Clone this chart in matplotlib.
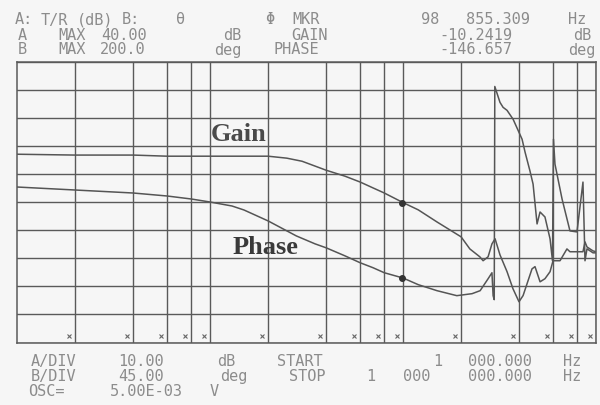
import numpy as np
import matplotlib
matplotlib.use('Agg')
import matplotlib.pyplot as plt
from matplotlib.ticker import NullLocator
from matplotlib.transforms import blended_transform_factory

# -------------------------------------------------------------------------
# Data (freq in Hz, gain in dB, phase in deg)
# -------------------------------------------------------------------------
gain_freq_khz = [1, 2, 4, 6, 10, 20, 25, 30, 40, 50, 60, 70, 80, 100, 120,
                 150, 200, 222, 250, 260, 276, 289, 300, 318, 346, 371, 399,
                 419, 466, 483, 513, 544, 578, 599, 651, 707, 733, 856, 877,
                 898, 965, 1000]
gain_db = [7.0, 6.7, 6.7, 6.3, 6.3, 6.3, 5.6, 4.5, 1.3, -0.8, -2.9, -5.0,
           -6.8, -10.2, -12.8, -17.1, -22.4, -26.7, -29.5, -30.9, -29.5,
           -24.9, -23.1, -28.8, -34.8, -40.8, -45.5, -43.3, -33.8, -33.0,
           -38.4, -37.3, -34.8, -30.9, -30.9, -26.7, -27.7, -27.7, -24.2,
           -26.0, -27.4, -27.7]

phase_freq_khz = [1, 2, 4, 6, 8, 10, 13, 15, 20, 28, 35, 40, 50, 60, 70, 80,
                  100, 120, 150, 190, 228, 251, 276, 289, 293, 297, 299, 318,
                  330, 346, 372, 414, 429, 455, 472, 495, 513, 544, 578, 595,
                  602, 613, 667, 733, 797, 856, 877, 898, 965, 1000]
phase_deg = [-1.0, -5.8, -10.6, -15.4, -20.2, -25.0, -31.4, -37.8, -55.3,
             -79.3, -92.0, -98.4, -111.2, -122.3, -130.3, -138.3, -146.7,
             -157.4, -167.0, -175.0, -171.8, -167.0, -147.9, -138.3, -175.0,
             -181.4, 160.0, 134.6, 126.6, 121.8, 107.5, 75.5, 54.8, 24.5, 3.7,
             -60.1, -41.0, -49.0, -84.0, -119.1, 75.5, 35.6, -20.2, -71.3,
             -72.9, 6.9, -119.1, -100.0, -106.4, -106.4]

marker_freq = 98855.309
marker_gain = -10.2419
marker_phase = -146.657

gain_max, gain_div = 40.0, 10.0
phase_max, phase_div = 200.0, 45.0
f_start, f_stop = 1e3, 1e6

# header / footer readout (pixel centre x, token)
header_rows = [
    (20, [(24, "A:"), (54, "T/R"), (95, "(dB)"), (131, "B:"), (181, "θ"),
          (270, "Φ"), (306, "MKR"), (430, "98"), (498, "855.309"), (577, "Hz")]),
    (35, [(22, "A"), (72, "MAX"), (124, "40.00"), (232, "dB"), (309, "GAIN"),
          (476, "-10.2419"), (582, "dB")]),
    (50, [(22, "B"), (72, "MAX"), (123, "200.0"), (228, "deg"), (296, "PHASE"),
          (476, "-146.657"), (582, "deg")]),
]
footer_rows = [
    (362, [(54, "A/DIV"), (141, "10.00"), (226, "dB"), (300, "START"),
           (438, "1"), (500, "000.000"), (572, "Hz")]),
    (377, [(54, "B/DIV"), (141, "45.00"), (234, "deg"), (307, "STOP"),
           (371, "1"), (417, "000"), (500, "000.000"), (572, "Hz")]),
    (392, [(46, "OSC="), (146, "5.00E-03"), (214, "V")]),
]

W, H = 600, 406
bg = "#f6f6f6"
ink = "#555555"
txt_col = "#8c8c8c"

# -------------------------------------------------------------------------
# Plot
# -------------------------------------------------------------------------
fig = plt.figure(figsize=(W / 100, H / 100), dpi=100, facecolor=bg)
ax = fig.add_axes([17 / W, 1 - 343.5 / H, 579 / W, 281 / H])
ax.set_facecolor(bg)
ax.set_xscale("log")
ax.set_xlim(f_start, f_stop)
ax.set_ylim(gain_max - 10 * gain_div, gain_max)

grid_f = [m * 10 ** e for e in range(3, 6) for m in (2, 4, 6, 8, 10)]
ax.set_xticks(grid_f)
ax.xaxis.set_minor_locator(NullLocator())
ax.set_yticks(np.arange(gain_max - 10 * gain_div, gain_max + 1, gain_div))
ax.tick_params(length=0, labelbottom=False, labelleft=False)
ax.grid(True, color="#5a5a5a", linewidth=1.0)
for s in ax.spines.values():
    s.set_color("#5a5a5a")
    s.set_linewidth(1.1)

# small graticule marks near the bottom edge
trans = blended_transform_factory(ax.transData, ax.transAxes)
ax.plot(np.array(grid_f) * 0.93, [0.022] * len(grid_f), linestyle="none",
        marker="x", ms=2.5, mew=0.8, color="#666666", transform=trans,
        clip_on=False)

f_gain = np.array(gain_freq_khz) * 1e3
ax.plot(f_gain, gain_db, color=ink, linewidth=1.1)
ax.plot(marker_freq, marker_gain, "o", ms=4, color="#333333")

ax2 = ax.twinx()
ax2.set_ylim(phase_max - 10 * phase_div, phase_max)
ax2.set_yticks([])
ax2.xaxis.set_minor_locator(NullLocator())
for s in ax2.spines.values():
    s.set_visible(False)
f_phase = np.array(phase_freq_khz) * 1e3
ax2.plot(f_phase, phase_deg, color=ink, linewidth=1.1)
ax2.plot(marker_freq, marker_phase, "o", ms=4, color="#333333")

ax.text(1.4e4, 14.5, "Gain", family="Liberation Serif", weight="bold",
        fontsize=19, color="#4a4a4a", ha="center", va="center")
ax.text(1.93e4, -26.0, "Phase", family="Liberation Serif", weight="bold",
        fontsize=19, color="#3a3a3a", ha="center", va="center")

for y, tokens in header_rows + footer_rows:
    for x, s in tokens:
        fig.text(x / W, 1 - y / H, s, family="DejaVu Sans Mono",
                 fontsize=11, color=txt_col, ha="center", va="center")

fig.savefig("out.png", dpi=100, facecolor=bg)
plt.close(fig)
